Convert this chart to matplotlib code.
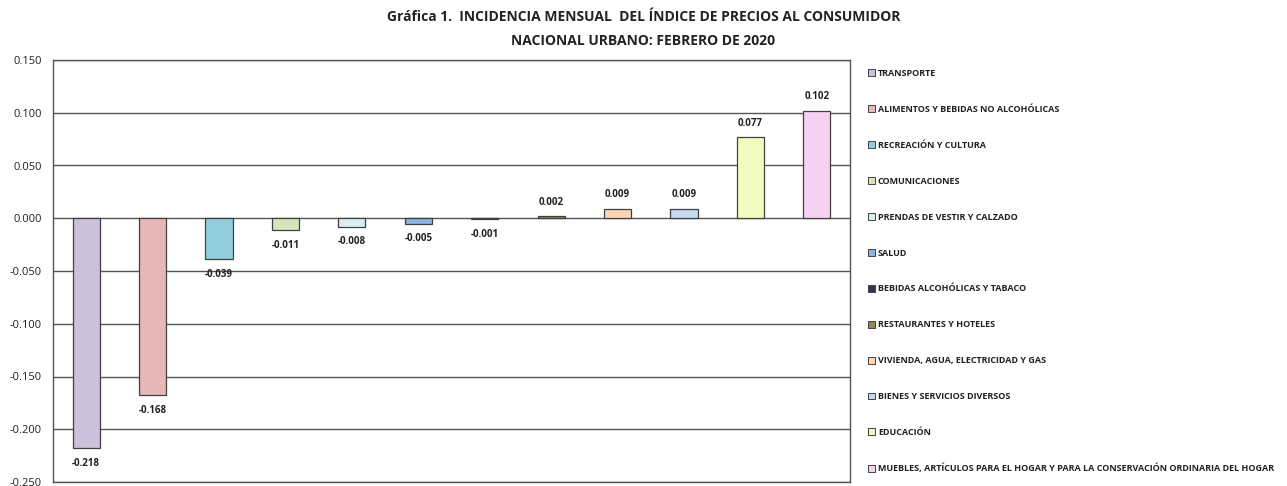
import matplotlib
matplotlib.use("Agg")
import matplotlib.pyplot as plt
from matplotlib.patches import Patch

categories = [
    "TRANSPORTE",
    "ALIMENTOS Y BEBIDAS NO ALCOHÓLICAS",
    "RECREACIÓN Y CULTURA",
    "COMUNICACIONES",
    "PRENDAS DE VESTIR Y CALZADO",
    "SALUD",
    "BEBIDAS ALCOHÓLICAS Y TABACO",
    "RESTAURANTES Y HOTELES",
    "VIVIENDA, AGUA, ELECTRICIDAD Y GAS",
    "BIENES Y SERVICIOS DIVERSOS",
    "EDUCACIÓN",
    "MUEBLES, ARTÍCULOS PARA EL HOGAR Y PARA LA CONSERVACIÓN ORDINARIA DEL HOGAR",
]
values = [-0.218, -0.168, -0.039, -0.011, -0.008, -0.005, -0.001, 0.002, 0.009, 0.009, 0.077, 0.102]
colors = ["#CCC0DA", "#E6B8B7", "#92CDDC", "#D8E4BC", "#DAEEF3", "#8DB4E2",
          "#403151", "#948A54", "#FCD5B4", "#C5D9F1", "#F4FBC0", "#F6D2F2"]
yticks = [0.150, 0.100, 0.050, 0.000, -0.050, -0.100, -0.150, -0.200, -0.250]

plt.rcParams['font.family'] = ['Open Sans', 'DejaVu Sans']

fig = plt.figure(figsize=(12.87, 4.86), dpi=100)
ax = fig.add_axes([53/1287, 1 - 482/486, (850-53)/1287, (482-60)/486])

x = list(range(len(values)))
bars = ax.bar(x, values, width=0.41, color=colors, edgecolor="#404040", linewidth=0.9, zorder=3)

ax.set_ylim(-0.250, 0.150)
ax.set_xlim(-0.5, len(values) - 0.5)
ax.set_yticks(yticks)
ax.set_yticklabels([f"{t:.3f}" for t in yticks], fontsize=8, color="#222222")
ax.set_xticks([])
ax.tick_params(axis='y', length=0, pad=8)
ax.yaxis.grid(True, color="#555555", linewidth=1.0, zorder=0)
for s in ax.spines.values():
    s.set_color("#555555")
    s.set_linewidth(1.0)

for xi, v in zip(x, values):
    if v >= 0:
        ax.annotate(f"{v:.3f}", (xi, v), xytext=(0, 6), textcoords="offset points",
                    ha="center", va="bottom", fontsize=7, fontweight="bold", color="#222222")
    else:
        ax.annotate(f"{v:.3f}", (xi, v), xytext=(0, -7), textcoords="offset points",
                    ha="center", va="top", fontsize=7, fontweight="bold", color="#222222")

handles = [Patch(facecolor=c, edgecolor="#404040", linewidth=0.7) for c in colors]
leg = fig.legend(handles, categories, loc="upper left", bbox_to_anchor=(868/1287, 1 - 69/486),
                 frameon=False, fontsize=6.5, handlelength=0.8, handleheight=0.8,
                 handletextpad=0.3, labelspacing=2.98, borderaxespad=0, borderpad=0)
for t in leg.get_texts():
    t.set_fontweight("bold")
    t.set_color("#222222")

fig.text(0.5, 1 - 17/486, "Gráfica 1.  INCIDENCIA MENSUAL  DEL ÍNDICE DE PRECIOS AL CONSUMIDOR",
         ha="center", va="center", fontsize=10, fontweight="bold", color="#222222")
fig.text(0.5, 1 - 41/486, "NACIONAL URBANO: FEBRERO DE 2020",
         ha="center", va="center", fontsize=10, fontweight="bold", color="#222222")

fig.savefig("out.png", dpi=100)
